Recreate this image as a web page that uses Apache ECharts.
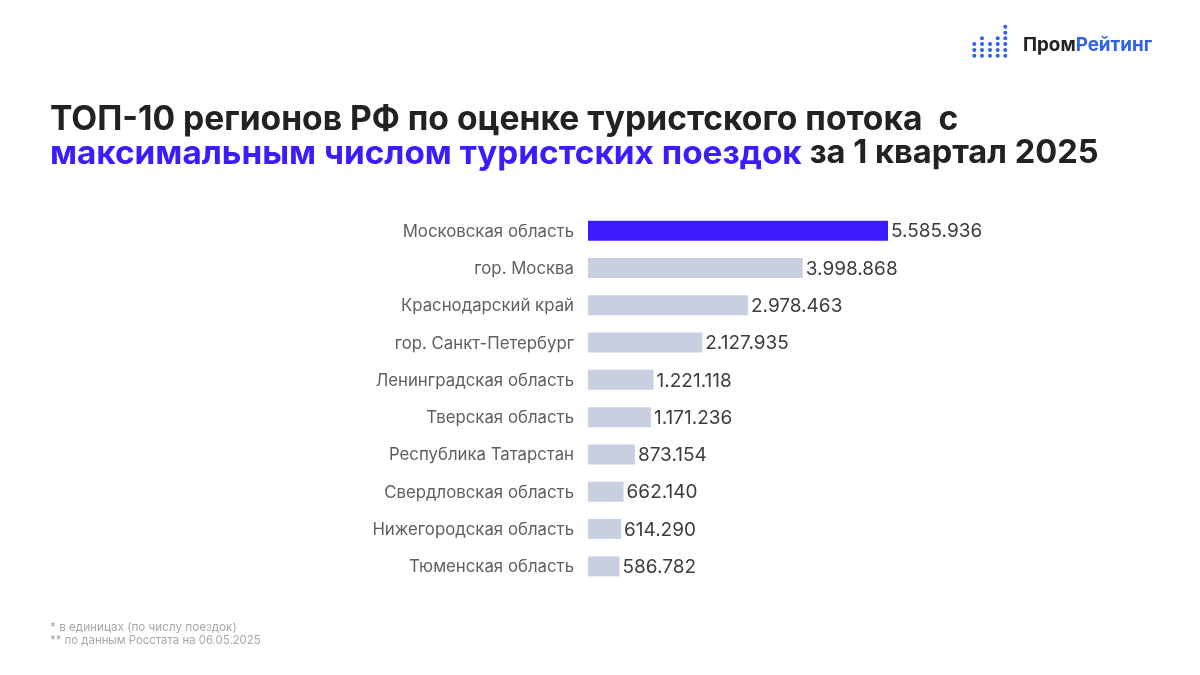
<!DOCTYPE html>
<html>
<head>
<meta charset="utf-8">
<style>html,body{margin:0;padding:0;background:#fff}#main{width:1200px;height:675px}</style>
<script src="https://cdn.jsdelivr.net/npm/echarts@6/dist/echarts.min.js"></script>
</head>
<body>
<div id="main"></div>
<script>
var regions = ['Московская область', 'гор. Москва', 'Краснодарский край', 'гор. Санкт-Петербург', 'Ленинградская область', 'Тверская область', 'Республика Татарстан', 'Свердловская область', 'Нижегородская область', 'Тюменская область'];
var trips = [5585936, 3998868, 2978463, 2127935, 1221118, 1171236, 873154, 662140, 614290, 586782];
var highlightIndex = 0;

var fontName = 'Inter';
var chart = echarts.init(document.getElementById('main'), null, {renderer: 'canvas'});

function fmt(n) {
  return String(n).replace(/\B(?=(\d{3})+(?!\d))/g, '.');
}

// логотип: точки по столбикам
var logoRows = [55.7, 50, 44, 38.3, 32.7, 26.7];
var logoColumns = [[974.3, 3], [982, 4], [990, 3], [997.7, 4], [1005.3, 6]];
var logoDots = [];
logoColumns.forEach(function (c) {
  for (var i = 0; i < c[1]; i++) {
    logoDots.push({type: 'circle', shape: {cx: c[0], cy: logoRows[i], r: 2}, style: {fill: '#2f62e8'}});
  }
});

var option = {
  backgroundColor: '#ffffff',
  animation: false,
  textStyle: {fontFamily: fontName},
  grid: {left: 588, top: 212, width: 300, height: 373, containLabel: false},
  xAxis: {type: 'value', min: 0, max: trips[0], show: false},
  yAxis: {
    type: 'category',
    inverse: true,
    data: regions,
    axisLine: {show: false},
    axisTick: {show: false},
    axisLabel: {
      margin: 14,
      formatter: function (v) { return '{n|' + v + '}'; },
      rich: {n: {color: '#5f5f5f', fontSize: 16.8, padding: [2, 0, 0, 0], fontFamily: fontName}}
    }
  },
  series: [{
    type: 'bar',
    barWidth: 20,
    data: trips.map(function (v, i) {
      return {value: v, itemStyle: {color: i === highlightIndex ? '#3a1cff' : '#c8cfe0'}};
    }),
    label: {
      show: true,
      position: 'right',
      distance: 3,
      offset: [0, 1],
      color: '#3c3c3c',
      fontSize: 19,
      fontFamily: fontName,
      formatter: function (p) { return fmt(p.value); }
    }
  }],
  graphic: [
    {type: 'text', left: 50, top: 103, style: {text: 'ТОП-10 регионов РФ по оценке туристского потока  с', fill: '#222222', font: '700 33.6px ' + fontName}},
    {type: 'text', left: 50, top: 137, style: {
      rich: {
        a: {fill: '#3a1cff', font: '700 33.3px ' + fontName},
        b: {fill: '#222222', font: '700 32.6px ' + fontName}
      },
      text: '{a|максимальным числом туристских поездок }{b|за 1 квартал 2025}'
    }},
    {type: 'text', left: 50, top: 621, style: {text: '* в единицах (по числу поездок)', fill: '#a8a8a8', font: '11.7px ' + fontName}},
    {type: 'text', left: 50, top: 635, style: {text: '** по данным Росстата на 06.05.2025', fill: '#a8a8a8', font: '11.4px ' + fontName}},
    {type: 'text', left: 1023, top: 36, style: {
      rich: {
        a: {fill: '#222222', font: '700 18.8px ' + fontName},
        b: {fill: '#2f62e8', font: '700 18.8px ' + fontName}
      },
      text: '{a|Пром}{b|Рейтинг}'
    }},
    {type: 'group', children: logoDots}
  ]
};
chart.setOption(option);
</script>
</body>
</html>
